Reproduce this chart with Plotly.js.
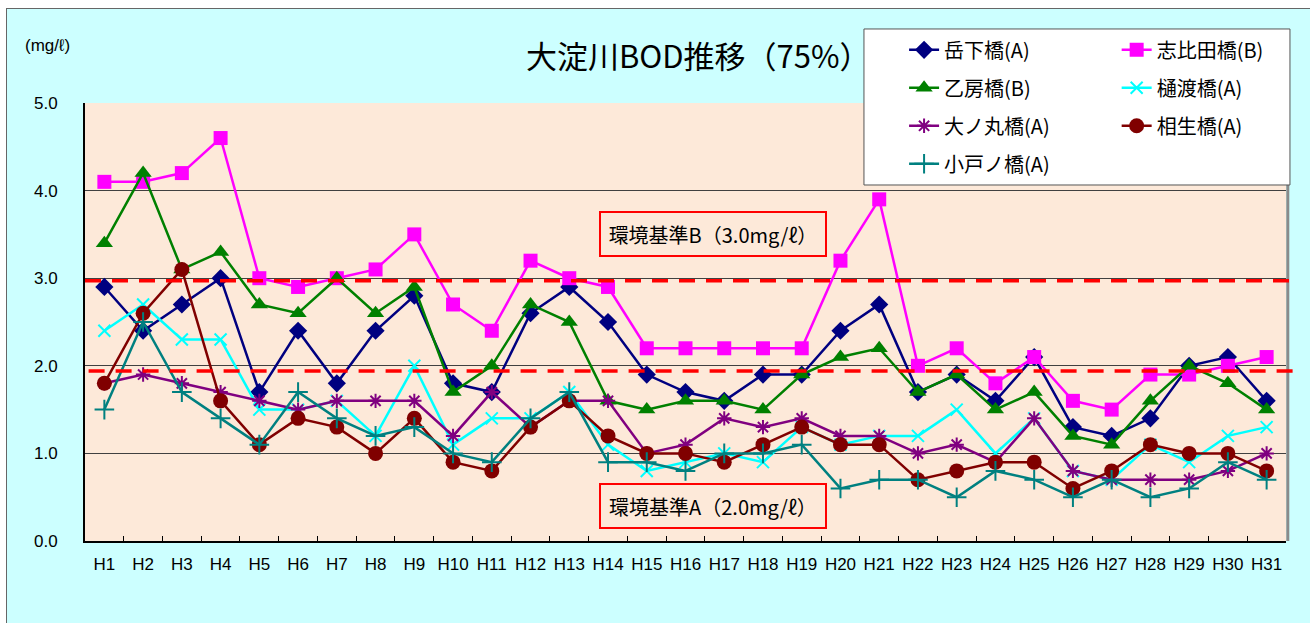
<!DOCTYPE html>
<html>
<head>
<meta charset="utf-8">
<script src="https://cdn.plot.ly/plotly-3.0.1.min.js"></script>
<style>
html,body{margin:0;padding:0;background:#ffffff;overflow:hidden;}
#frame{position:absolute;left:6px;top:8px;width:1320px;height:700px;background:#CCFFFF;border-left:1.5px solid #666;border-top:1.5px solid #666;}
#chart{position:absolute;left:0;top:0;width:1310px;height:623px;}
</style>
</head>
<body>
<div id="frame"></div>
<div id="chart"></div>
<script>
const categories = ["H1","H2","H3","H4","H5","H6","H7","H8","H9","H10","H11","H12","H13","H14","H15","H16","H17","H18","H19","H20","H21","H22","H23","H24","H25","H26","H27","H28","H29","H30","H31"];
const gakukaBashi   = [2.9,2.4,2.7,3.0,1.7,2.4,1.8,2.4,2.8,1.8,1.7,2.6,2.9,2.5,1.9,1.7,1.6,1.9,1.9,2.4,2.7,1.7,1.9,1.6,2.1,1.3,1.2,1.4,2.0,2.1,1.6];
const shibitaBashi  = [4.1,4.1,4.2,4.6,3.0,2.9,3.0,3.1,3.5,2.7,2.4,3.2,3.0,2.9,2.2,2.2,2.2,2.2,2.2,3.2,3.9,2.0,2.2,1.8,2.1,1.6,1.5,1.9,1.9,2.0,2.1];
const otoboBashi    = [3.4,4.2,3.1,3.3,2.7,2.6,3.0,2.6,2.9,1.7,2.0,2.7,2.5,1.6,1.5,1.6,1.6,1.5,1.9,2.1,2.2,1.7,1.9,1.5,1.7,1.2,1.1,1.6,2.0,1.8,1.5];
const hiwatariBashi = [2.4,2.7,2.3,2.3,1.5,1.5,1.6,1.2,2.0,1.1,1.4,1.4,1.7,1.1,0.8,0.9,1.0,0.9,1.3,1.1,1.2,1.2,1.5,1.0,1.4,0.8,0.7,1.1,0.9,1.2,1.3];
const onomaruBashi  = [1.8,1.9,1.8,1.7,1.6,1.5,1.6,1.6,1.6,1.2,1.7,1.3,1.6,1.6,1.0,1.1,1.4,1.3,1.4,1.2,1.2,1.0,1.1,0.9,1.4,0.8,0.7,0.7,0.7,0.8,1.0];
const aioiBashi     = [1.8,2.6,3.1,1.6,1.1,1.4,1.3,1.0,1.4,0.9,0.8,1.3,1.6,1.2,1.0,1.0,0.9,1.1,1.3,1.1,1.1,0.7,0.8,0.9,0.9,0.6,0.8,1.1,1.0,1.0,0.8];
const kotonoBashi   = [1.5,2.5,1.7,1.4,1.1,1.7,1.4,1.2,1.3,1.0,0.9,1.4,1.7,0.9,0.9,0.8,1.0,1.0,1.1,0.6,0.7,0.7,0.5,0.8,0.7,0.5,0.7,0.5,0.6,0.9,0.7];
const standardB = 2.97;
const standardA = 1.94;

const JP = "'Noto Sans CJK JP', 'Liberation Sans', sans-serif";
const LAT = "'Liberation Sans', Arial, sans-serif";

function tr(name, y, color, symbol, size, legend, opts) {
  const m = {symbol: symbol, size: size, color: color, line: {color: color, width: 0}};
  if (opts && opts.thin) { m.line.width = 2; }
  return {
    type: 'scatter', mode: 'lines+markers', name: name, x: categories, y: y,
    line: {color: color, width: 2.5},
    marker: m, legend: legend, legendgroup: name, cliponaxis: false
  };
}

const data = [
  tr('岳下橋(A)', gakukaBashi, '#000080', 'diamond', 14, 'legend'),
  tr('志比田橋(B)', shibitaBashi, '#FF00FF', 'square', 14, 'legend2'),
  tr('乙房橋(B)', otoboBashi, '#008000', 'triangle-up', 15, 'legend'),
  tr('樋渡橋(A)', hiwatariBashi, '#00FFFF', 'x-thin-open', 12, 'legend2', {thin: true}),
  tr('大ノ丸橋(A)', onomaruBashi, '#800080', 'asterisk-open', 12, 'legend', {thin: true}),
  tr('相生橋(A)', aioiBashi, '#800000', 'circle', 15, 'legend2'),
  tr('小戸ノ橋(A)', kotonoBashi, '#008080', 'cross-thin-open', 14, 'legend', {thin: true})
];

const legendCommon = {
  orientation: 'v', bgcolor: 'rgba(0,0,0,0)', borderwidth: 0,
  font: {family: JP, size: 20, color: '#000'}, tracegroupgap: 9,
  xanchor: 'left', yanchor: 'top', itemclick: false
};

const layout = {
  width: 1310, height: 623,
  paper_bgcolor: 'rgba(0,0,0,0)',
  plot_bgcolor: '#FDE9D9',
  margin: {l: 85, r: 24, t: 103, b: 82},
  showlegend: true,
  title: {text: '大淀川BOD推移（75%）', font: {family: JP, size: 31, color: '#000'},
          xref: 'container', yref: 'container', x: 0.533, y: 0.908, xanchor: 'center', yanchor: 'middle'},
  xaxis: {
    type: 'category', range: [-0.5, 30.5], autorange: false, showline: true, linecolor: '#000', linewidth: 2,
    ticks: 'inside', tickson: 'boundaries', ticklen: 5, tickcolor: '#000', tickwidth: 1, tickangle: 0,
    tickfont: {family: LAT, size: 17, color: '#000'}, showgrid: false, zeroline: false, ticklabelstandoff: 7
  },
  yaxis: {
    range: [0, 5], autorange: false, dtick: 1, tickformat: '.1f', showline: true, linecolor: '#000', linewidth: 2,
    ticks: '', showgrid: true, gridcolor: '#404040', gridwidth: 1, zeroline: false,
    tickfont: {family: LAT, size: 17, color: '#000'}, ticklabelstandoff: 22
  },
  legend: Object.assign({}, legendCommon, {x: 0.682, y: 1.166}),
  legend2: Object.assign({}, legendCommon, {x: 0.859, y: 1.166}),
  shapes: [
    {type: 'line', xref: 'paper', yref: 'paper', x0: 1.0015, x1: 1.0015, y0: 0, y1: 1, line: {color: '#8a8a8a', width: 3}, layer: 'above'},
    {type: 'line', xref: 'paper', yref: 'y', x0: 0, x1: 1.006, y0: standardB, y1: standardB, line: {color: '#FF0000', width: 3.5, dash: '16px,11px'}, layer: 'above'},
    {type: 'line', xref: 'paper', yref: 'y', x0: 0.003, x1: 1.006, y0: standardA, y1: standardA, line: {color: '#FF0000', width: 3.5, dash: '16px,11px'}, layer: 'above'},
    {type: 'rect', xref: 'paper', yref: 'paper', x0: 0.6486, x1: 1.0033, y0: 0.8128, y1: 1.169, fillcolor: '#FFFFFF', line: {color: '#555', width: 1}, layer: 'above'}
  ],
  annotations: [
    {text: '(mg/ℓ)', xref: 'paper', yref: 'paper', x: -0.0316, y: 1.132, xanchor: 'center', yanchor: 'middle', showarrow: false,
     font: {family: LAT, size: 17, color: '#000'}},
    {text: '環境基準B（3.0mg/ℓ）', xref: 'paper', yref: 'paper', x: 0.523, y: 0.701, xanchor: 'center', yanchor: 'middle', showarrow: false,
     font: {family: JP, size: 20, color: '#000'}, bgcolor: '#FDE9D9', bordercolor: '#FF0000', borderwidth: 2, borderpad: 2, width: 220, height: 38},
    {text: '環境基準A（2.0mg/ℓ）', xref: 'paper', yref: 'paper', x: 0.523, y: 0.080, xanchor: 'center', yanchor: 'middle', showarrow: false,
     font: {family: JP, size: 20, color: '#000'}, bgcolor: '#FDE9D9', bordercolor: '#FF0000', borderwidth: 2, borderpad: 2, width: 220, height: 38}
  ]
};

Plotly.newPlot('chart', data, layout, {displayModeBar: false, staticPlot: true});
</script>
</body>
</html>
